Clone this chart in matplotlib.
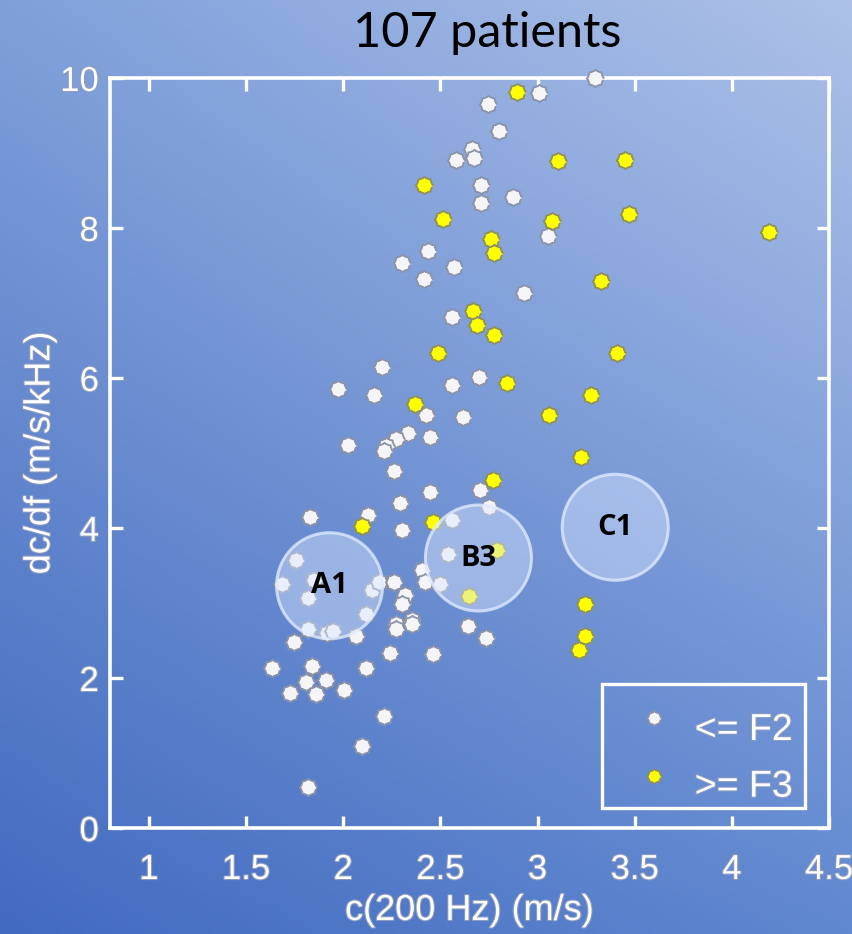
import numpy as np
import matplotlib
matplotlib.use("Agg")
import matplotlib.pyplot as plt
from matplotlib.patches import Ellipse, Rectangle
from matplotlib import patheffects as pe
from matplotlib import font_manager

# ---------------- data ----------------
white_x = [3.297, 3.01, 2.744, 2.804, 2.661, 2.672, 2.579, 2.711, 2.876, 2.711,
           2.435, 2.301, 2.569, 2.414, 2.928, 2.558, 3.052, 2.199, 2.701, 2.558,
           1.973, 2.156, 2.424, 2.619, 2.333, 2.270, 2.445, 2.218, 2.210, 2.023,
           2.259, 2.703, 2.445, 2.292, 2.751, 1.828, 2.127, 2.304, 2.558, 1.756,
           1.686, 1.849, 1.818, 2.149, 2.184, 2.119, 1.820, 1.918, 1.947, 2.261,
           2.318, 2.301, 2.407, 2.421, 2.270, 2.273, 2.352, 2.352, 2.067, 1.746,
           2.241, 2.464, 2.641, 2.734, 2.538, 2.496, 1.632, 1.839, 2.115, 1.809,
           1.911, 2.004, 1.727, 1.859, 2.208, 2.096, 1.818]
white_y = [10.0, 9.80, 9.66, 9.29, 9.05, 8.94, 8.91, 8.57, 8.41, 8.33,
           7.69, 7.53, 7.48, 7.32, 7.14, 6.82, 7.89, 6.15, 6.02, 5.91,
           5.86, 5.78, 5.51, 5.48, 5.27, 5.19, 5.22, 5.09, 5.03, 5.11,
           4.76, 4.51, 4.48, 4.34, 4.28, 4.15, 4.17, 3.97, 4.11, 3.57,
           3.25, 3.31, 3.07, 3.17, 3.28, 2.85, 2.65, 2.60, 2.63, 3.28,
           3.11, 2.99, 3.44, 3.28, 2.72, 2.66, 2.77, 2.72, 2.56, 2.48,
           2.33, 2.32, 2.69, 2.54, 3.66, 3.26, 2.13, 2.16, 2.13, 1.95,
           1.97, 1.84, 1.80, 1.79, 1.50, 1.10, 0.55]

yellow_x = [2.897, 2.414, 2.515, 2.763, 2.775, 2.670, 2.691, 2.775, 3.103, 3.452,
            3.472, 3.072, 4.192, 3.328, 2.486, 2.845, 2.371, 2.773, 2.095, 2.464,
            2.794, 2.649, 3.410, 3.277, 3.060, 3.225, 3.246, 3.246, 3.215]
yellow_y = [9.81, 8.57, 8.12, 7.85, 7.67, 6.90, 6.71, 6.58, 8.89, 8.91,
            8.19, 8.09, 7.95, 7.29, 6.34, 5.94, 5.65, 4.64, 4.03, 4.08,
            3.71, 3.09, 6.34, 5.78, 5.51, 4.95, 2.99, 2.56, 2.37]

region_labels = ["A1", "B3", "C1"]
region_x = [1.93, 2.696, 3.40]
region_y = [3.23, 3.60, 4.01]

x_ticks = [1, 1.5, 2, 2.5, 3, 3.5, 4, 4.5]
x_ticklabels = ["1", "1.5", "2", "2.5", "3", "3.5", "4", "4.5"]
y_ticks = [0, 2, 4, 6, 8, 10]
y_ticklabels = ["0", "2", "4", "6", "8", "10"]
legend_labels = ["<= F2", ">= F3"]

title = "107 patients"
xlabel = "c(200 Hz) (m/s)"
ylabel = "dc/df (m/s/kHz)"

# ---------------- fonts ----------------
names = {f.name for f in font_manager.fontManager.ttflist}
narrow = "Liberation Sans Narrow" if "Liberation Sans Narrow" in names else "Liberation Sans"
label_font = [narrow, "DejaVu Sans"]
title_font = ["Lato", "DejaVu Sans"] if "Lato" in names else ["DejaVu Sans"]
bold_font = ["Open Sans", "DejaVu Sans"] if "Open Sans" in names else ["DejaVu Sans"]

W, H = 852, 934
fig = plt.figure(figsize=(W / 100, H / 100), dpi=100)

# background gradient
bg = fig.add_axes([0, 0, 1, 1], zorder=-10)
tl = np.array([0x80, 0xa0, 0xda]) / 255
tr = np.array([0xad, 0xc1, 0xe8]) / 255
bl = np.array([0x42, 0x6a, 0xc0]) / 255
br = np.array([0x60, 0x88, 0xd0]) / 255
u = np.linspace(0, 1, 200)[None, :, None]
v = np.linspace(0, 1, 200)[:, None, None]
img = (1 - v) * ((1 - u) * tl + u * tr) + v * ((1 - u) * bl + u * br)
bg.imshow(img, aspect="auto", extent=[0, 1, 0, 1], origin="upper")
bg.axis("off")

ax = fig.add_axes([110 / W, 1 - 828 / H, (829 - 110) / W, (828 - 78) / H])
ax.set_facecolor("none")
ax.set_xlim(0.8, 4.5)
ax.set_ylim(0, 10)

# sun-like marker shape
ang = np.linspace(0, 2 * np.pi, 33)[:-1]
rad = np.where(np.arange(32) % 4 == 0, 1.0, 0.86)
marker_verts = list(zip(np.cos(ang) * rad, np.sin(ang) * rad))

common = dict(marker=marker_verts, s=160, linewidths=1.3, zorder=3, clip_on=False)
ax.scatter(white_x, white_y, c="#f5f5f7", edgecolors="#8c93a8", **common)
ax.scatter(yellow_x, yellow_y, c="#ffff00", edgecolors="#8f915c", **common)

# region circles (pixel-equal radius: 53 px)
rx = 53 / 194.3
ry = 53 / 75.0
for lab, cx, cy in zip(region_labels, region_x, region_y):
    ax.add_patch(Ellipse((cx, cy), 2 * rx, 2 * ry, facecolor=(0.85, 0.9, 1.0, 0.45),
                         edgecolor=(0.88, 0.92, 1.0, 0.78), linewidth=2.2, zorder=4))
    ax.text(cx, cy, lab, ha="center", va="center", fontsize=21, fontweight="bold",
            family=bold_font, color="black", zorder=5)

# axes styling
for s in ax.spines.values():
    s.set_color("white")
    s.set_linewidth(2.6)
stroke = [pe.withStroke(linewidth=1.6, foreground="#8a9ac0")]
ax.set_xticks(x_ticks)
ax.set_xticklabels(x_ticklabels, family=label_font, fontsize=25, color="white",
                   path_effects=stroke)
ax.set_yticks(y_ticks)
ax.set_yticklabels(y_ticklabels, family=label_font, fontsize=25, color="white",
                   path_effects=stroke)
ax.tick_params(direction="in", length=9, width=2.4, color="white",
               top=True, right=True)
ax.tick_params(axis="x", pad=18)
ax.tick_params(axis="y", pad=8)

ax.set_xlabel(xlabel, family=label_font, fontsize=26, color="white",
              path_effects=stroke, labelpad=5)
ax.set_ylabel(ylabel, family=label_font, fontsize=26, color="white",
              path_effects=stroke, labelpad=2)

fig.text(487 / W, 1 - 33 / H, title, ha="center", va="center", fontsize=35,
         family=title_font, color="black")

# legend box
x0 = (601.7 - 110) / 719
y0 = (828 - 808.3) / 750
x1 = (805 - 110) / 719
y1 = (828 - 684) / 750
ax.add_patch(Rectangle((x0, y0), x1 - x0, y1 - y0, transform=ax.transAxes,
                       facecolor="none", edgecolor="white", linewidth=2.4, zorder=6))
mx = (654.3 - 110) / 719
leg_my = [(828 - 717.7) / 750, (828 - 776) / 750]
leg_ty = [(828 - 730) / 750, (828 - 786.7) / 750]
leg_face = ["#f5f5f7", "#ffff00"]
leg_edge = ["#8c93a8", "#8f915c"]
for lab, my, ty, fcol, ecol in zip(legend_labels, leg_my, leg_ty, leg_face, leg_edge):
    ax.scatter([mx], [my], transform=ax.transAxes, marker=marker_verts, s=110,
               c=fcol, edgecolors=ecol, linewidths=1.2, zorder=7, clip_on=False)
    ax.text((793 - 110) / 719, ty, lab, transform=ax.transAxes, ha="right",
            va="center", family=label_font, fontsize=27, color="white",
            path_effects=stroke, zorder=7)

fig.savefig("out.png", dpi=100)
